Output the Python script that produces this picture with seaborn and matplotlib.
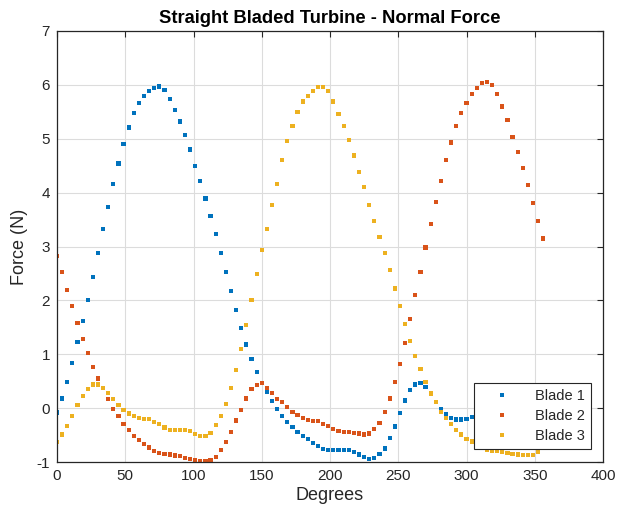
import numpy as np
import pandas as pd
import matplotlib
matplotlib.use("Agg")
import matplotlib.pyplot as plt
import seaborn as sns

# ---- data ----
step_deg = 3.75
n_points = 96
degrees = [round(step_deg * i, 2) for i in range(n_points)]

blade1 = [-0.08, 0.18, 0.48, 0.83, 1.22, 1.61, 2.00, 2.44, 2.88, 3.32,
          3.74, 4.16, 4.54, 4.91, 5.21, 5.48, 5.66, 5.80, 5.89, 5.94,
          5.97, 5.91, 5.74, 5.54, 5.32, 5.07, 4.80, 4.50, 4.21, 3.89,
          3.57, 3.23, 2.88, 2.52, 2.17, 1.82, 1.49, 1.18, 0.91, 0.67,
          0.47, 0.30, 0.13, -0.02, -0.14, -0.26, -0.35, -0.44, -0.51, -0.58,
          -0.65, -0.71, -0.76, -0.78, -0.78, -0.78, -0.77, -0.77, -0.81, -0.86,
          -0.91, -0.95, -0.92, -0.85, -0.75, -0.56, -0.34, -0.09, 0.14, 0.33,
          0.44, 0.46, 0.39, 0.26, 0.12, -0.02, -0.11, -0.18, -0.21, -0.21,
          -0.20, -0.17, -0.15, -0.16, -0.20, -0.25, -0.30, -0.35, -0.38, -0.40,
          -0.41, -0.43, -0.45, -0.42, -0.33, -0.20]

blade2 = [2.83, 2.52, 2.20, 1.89, 1.58, 1.28, 1.02, 0.77, 0.55, 0.37,
          0.17, -0.01, -0.15, -0.30, -0.41, -0.51, -0.59, -0.67, -0.73, -0.80,
          -0.83, -0.85, -0.86, -0.88, -0.89, -0.93, -0.94, -0.97, -0.99, -0.99,
          -0.96, -0.91, -0.78, -0.63, -0.45, -0.23, -0.03, 0.18, 0.35, 0.43,
          0.46, 0.38, 0.28, 0.17, 0.12, 0.02, -0.07, -0.13, -0.18, -0.22,
          -0.24, -0.24, -0.29, -0.33, -0.38, -0.43, -0.44, -0.45, -0.46, -0.47,
          -0.49, -0.47, -0.39, -0.27, -0.07, 0.18, 0.48, 0.82, 1.21, 1.66,
          2.10, 2.52, 2.98, 3.41, 3.82, 4.22, 4.60, 4.93, 5.24, 5.48,
          5.67, 5.83, 5.94, 6.04, 6.06, 5.99, 5.83, 5.60, 5.35, 5.04,
          4.75, 4.45, 4.14, 3.81, 3.48, 3.15]

blade3 = [-0.63, -0.49, -0.33, -0.14, 0.06, 0.23, 0.36, 0.44, 0.44, 0.38,
          0.28, 0.17, 0.06, -0.04, -0.10, -0.15, -0.18, -0.20, -0.20, -0.25,
          -0.30, -0.36, -0.41, -0.41, -0.41, -0.41, -0.43, -0.48, -0.52, -0.51,
          -0.46, -0.32, -0.14, 0.07, 0.38, 0.70, 1.09, 1.54, 2.01, 2.49,
          2.94, 3.33, 3.77, 4.16, 4.60, 4.96, 5.24, 5.49, 5.69, 5.80,
          5.89, 5.96, 5.96, 5.88, 5.69, 5.46, 5.24, 4.98, 4.69, 4.38,
          4.10, 3.77, 3.48, 3.17, 2.88, 2.56, 2.22, 1.89, 1.56, 1.25,
          0.97, 0.72, 0.49, 0.27, 0.12, -0.07, -0.19, -0.30, -0.41, -0.49,
          -0.57, -0.62, -0.67, -0.74, -0.77, -0.79, -0.80, -0.82, -0.84, -0.85,
          -0.86, -0.87, -0.87, -0.87, -0.82, -0.74]

series_names = ["Blade 1", "Blade 2", "Blade 3"]
series_colors = ["#0072BD", "#D95319", "#EDB120"]
x_ticks = [0, 50, 100, 150, 200, 250, 300, 350, 400]
y_ticks = [-1, 0, 1, 2, 3, 4, 5, 6, 7]

df = pd.DataFrame({
    "Degrees": degrees * 3,
    "Force": blade1 + blade2 + blade3,
    "Blade": [series_names[0]] * n_points + [series_names[1]] * n_points + [series_names[2]] * n_points,
})

# ---- style ----
sns.set_style("white")
plt.rcParams["font.family"] = ["Liberation Sans", "DejaVu Sans"]
plt.rcParams["axes.unicode_minus"] = False
dark = "#262626"

fig = plt.figure(figsize=(6.19, 5.19), dpi=100)
ax = fig.add_axes([57 / 619, 1 - 462 / 519, 546 / 619, 431 / 519])

sns.scatterplot(data=df, x="Degrees", y="Force", hue="Blade",
                hue_order=series_names, palette=series_colors,
                marker="s", s=9, linewidth=0, ax=ax, legend=True)

ax.set_xlim(0, 400)
ax.set_ylim(-1, 7)
ax.set_xticks(x_ticks)
ax.set_yticks(y_ticks)
ax.grid(True, color="#dcdcdc", linewidth=0.8)
ax.set_axisbelow(True)
for sp in ax.spines.values():
    sp.set_visible(True)
    sp.set_color(dark)
    sp.set_linewidth(0.9)
ax.tick_params(direction="in", length=4, width=0.8, color=dark,
               labelcolor=dark, labelsize=11, top=True, right=True,
               labeltop=False, labelright=False, pad=5)

ax.set_title("Straight Bladed Turbine - Normal Force", fontsize=13.2,
             fontweight="bold", color="black", pad=6)
ax.set_xlabel("Degrees", fontsize=13, color=dark, labelpad=3)
ax.set_ylabel("Force (N)", fontsize=13, color=dark, labelpad=6)

leg = ax.legend(loc="lower right", bbox_to_anchor=(0.978, 0.030),
                fontsize=10.5, frameon=True, fancybox=False, framealpha=1,
                edgecolor=dark, handlelength=3.0, handletextpad=0.8,
                borderpad=0.4, labelspacing=0.42, markerscale=1.0,
                borderaxespad=0)
leg.get_frame().set_linewidth(0.8)
for t in leg.get_texts():
    t.set_color(dark)

fig.savefig("out.png", dpi=100, facecolor="white")
